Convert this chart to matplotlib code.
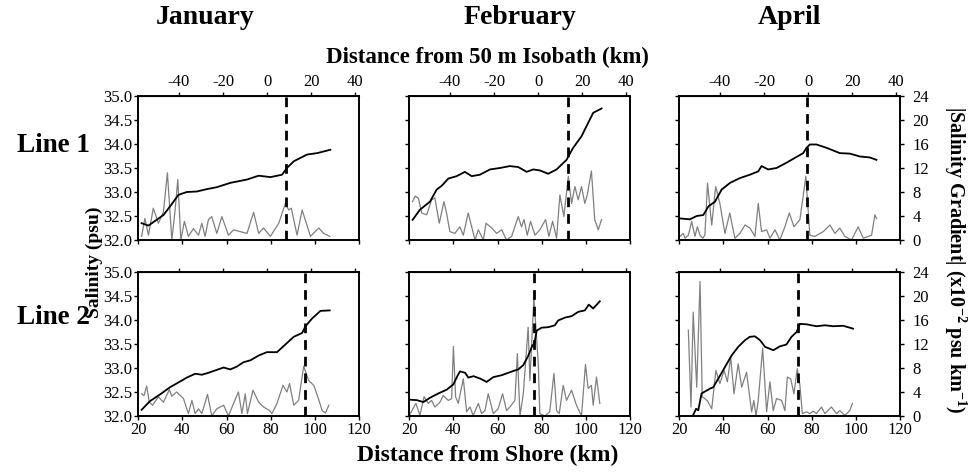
import matplotlib.pyplot as plt
import numpy as np

plt.rcParams['font.family'] = ['Liberation Serif', 'DejaVu Serif']
plt.rcParams['axes.unicode_minus'] = False
plt.rcParams['mathtext.fontset'] = 'custom'
plt.rcParams['mathtext.rm'] = 'Liberation Serif'
plt.rcParams['mathtext.bf'] = 'Liberation Serif:bold'

# distance of 50 m isobath from shore (km), used for the top axis
isobath_offset = 78.4

# ---- Line 1, January ----
jan1_km = [21.5, 24.6, 28.3, 31.4, 34.4, 38.2, 42.0, 46.5, 51.1, 55.6, 61.7, 69.3, 74.6, 79.9,
           85.2, 87.4, 90.5, 96.5, 101.1, 107.1]
jan1_sal = [32.35, 32.30, 32.42, 32.52, 32.70, 32.94, 33.00, 33.01, 33.06, 33.10, 33.19, 33.26,
            33.34, 33.31, 33.36, 33.50, 33.64, 33.78, 33.81, 33.88]
jan1_gkm = [21.5, 23.0, 24.6, 26.8, 29.1, 31.4, 33.2, 35.2, 36.7, 37.9, 39.3, 40.9, 42.7, 45.0,
            47.3, 48.8, 50.3, 51.8, 53.3, 55.6, 57.9, 60.9, 63.2, 66.2, 69.3, 72.3, 74.6, 76.8,
            79.9, 83.7, 86.7, 88.2, 89.4, 92.0, 94.3, 98.1, 101.8, 104.1, 106.8]
jan1_grad = [0.6, 3.6, 0.8, 5.3, 2.8, 4.7, 11.2, 0.0, 5.0, 10.1, 0.0, 3.1, 0.6, 1.9,
             0.8, 2.8, 0.6, 3.4, 3.9, 1.1, 3.9, 0.8, 1.7, 1.4, 1.1, 4.6, 1.1, 2.0,
             0.6, 2.8, 6.1, 5.0, 5.3, 0.8, 5.0, 0.6, 2.0, 1.1, 0.6]
jan1_front = 87.1

# ---- Line 1, February ----
feb1_km = [21.5, 24.8, 29.4, 32.4, 34.7, 37.7, 41.5, 45.2, 48.3, 52.0, 56.6, 61.1, 65.6, 69.4,
           73.2, 76.2, 79.2, 83.0, 86.8, 91.3, 94.3, 98.1, 101.1, 103.4, 107.2]
feb1_sal = [32.42, 32.63, 32.80, 33.05, 33.13, 33.28, 33.33, 33.42, 33.33, 33.36, 33.47, 33.50,
            33.54, 33.52, 33.42, 33.47, 33.45, 33.38, 33.47, 33.67, 33.92, 34.16, 34.44, 34.65, 34.74]
feb1_gkm = [21.5, 22.6, 24.1, 25.6, 27.9, 30.1, 31.6, 33.6, 35.7, 36.9, 38.4, 40.7, 42.9, 44.5,
            46.7, 48.3, 49.8, 51.3, 53.6, 54.8, 57.4, 59.6, 61.9, 64.1, 66.4, 69.4, 70.9, 72.0,
            73.5, 75.0, 77.0, 79.2, 81.8, 83.3, 85.0, 86.8, 88.3, 90.1, 92.1, 93.6, 95.1, 96.6,
            98.1, 99.6, 100.7, 102.6, 104.1, 105.7, 107.2]
feb1_grad = [6.4, 7.3, 7.0, 4.5, 4.2, 6.7, 7.0, 2.8, 6.4, 4.5, 1.4, 1.1, 2.2, 0.8,
             4.5, 2.2, 0.0, 1.7, 0.0, 2.8, 2.0, 1.1, 1.7, 0.0, 0.6, 3.9, 2.2, 3.4,
             0.8, 3.1, 0.8, 1.7, 3.4, 0.6, 3.1, 0.3, 7.5, 3.9, 10.6, 6.1, 8.9, 6.7,
             8.9, 6.1, 7.5, 11.5, 3.4, 1.7, 3.4]
feb1_front = 91.8

# ---- Line 1, April ----
apr1_km = [20.3, 24.8, 27.9, 30.9, 33.2, 36.2, 39.2, 43.0, 47.5, 52.0, 55.8, 57.3, 60.3, 64.1,
           68.6, 72.4, 76.2, 77.7, 79.2, 82.2, 86.8, 92.8, 97.3, 101.9, 106.4, 109.4]
apr1_sal = [32.45, 32.43, 32.50, 32.52, 32.70, 32.80, 33.05, 33.19, 33.29, 33.36, 33.43, 33.54,
            33.47, 33.50, 33.61, 33.71, 33.81, 33.92, 33.99, 33.99, 33.92, 33.81, 33.80, 33.74,
            33.72, 33.67]
apr1_gkm = [20.3, 21.8, 22.6, 24.1, 25.6, 27.1, 28.2, 29.4, 30.6, 31.6, 32.8, 34.7, 36.5, 38.4,
            40.7, 42.9, 45.2, 47.5, 49.8, 52.0, 54.3, 55.8, 57.3, 59.6, 61.1, 63.4, 65.6, 67.9,
            69.9, 72.0, 74.7, 77.4, 79.2, 81.5, 85.3, 88.3, 90.6, 92.8, 95.1, 98.1, 101.1, 103.4,
            107.2, 108.7, 109.4]
apr1_grad = [0.6, 1.1, 0.3, 0.8, 3.1, 0.6, 2.2, 0.8, 0.3, 0.8, 9.5, 2.5, 8.9, 6.1,
             1.1, 4.5, 0.3, 1.1, 2.5, 2.0, 0.6, 6.1, 1.4, 1.7, 0.3, 1.7, 0.0, 2.2,
             4.5, 2.2, 3.4, 10.6, 0.8, 0.6, 1.4, 2.5, 1.1, 2.0, 0.6, 0.0, 2.2, 0.3,
             0.8, 4.2, 3.6]
apr1_front = 77.7

# ---- Line 2, January ----
jan2_km = [21.5, 25.3, 29.9, 34.4, 39.0, 42.0, 45.8, 48.8, 51.8, 54.9, 58.7, 61.7, 64.7, 67.7,
           70.8, 74.6, 78.3, 82.9, 86.7, 90.5, 94.3, 95.8, 98.8, 102.6, 106.8]
jan2_sal = [32.13, 32.31, 32.45, 32.60, 32.72, 32.80, 32.88, 32.86, 32.90, 32.95, 33.01, 32.97,
            33.03, 33.12, 33.16, 33.26, 33.33, 33.33, 33.49, 33.65, 33.73, 33.87, 34.03, 34.19, 34.20]
jan2_gkm = [21.5, 22.6, 23.8, 25.0, 26.5, 29.1, 31.4, 34.1, 35.2, 37.4, 40.5, 42.7, 44.3, 45.8,
            47.3, 48.8, 51.4, 53.3, 55.6, 58.7, 60.9, 63.2, 65.4, 67.0, 68.5, 69.5, 72.0, 74.6,
            76.8, 79.6, 80.6, 82.9, 85.6, 87.4, 88.6, 90.5, 92.7, 95.0, 97.3, 99.6, 101.4, 103.4,
            104.9, 106.4]
jan2_grad = [3.7, 3.4, 5.0, 2.3, 1.8, 3.2, 2.3, 4.4, 3.3, 4.0, 2.9, 0.4, 2.6, 0.4,
             1.2, 0.4, 3.6, 0.0, 1.2, 1.8, 0.0, 2.1, 4.0, 0.4, 3.7, 0.4, 4.3, 2.3,
             1.5, 0.9, 0.4, 2.1, 5.1, 4.0, 5.4, 1.8, 2.6, 8.3, 5.9, 5.1, 3.2, 0.9,
             0.5, 1.8]
jan2_front = 95.5

# ---- Line 2, February ----
feb2_km = [20.0, 23.4, 26.4, 29.4, 33.2, 37.0, 40.0, 42.0, 43.0, 45.3, 46.8, 49.1, 52.1, 55.1,
           58.1, 61.9, 64.9, 67.9, 69.4, 71.7, 74.0, 75.8, 76.7, 77.8, 80.0, 83.0, 86.0, 87.5,
           90.6, 93.6, 96.6, 99.6, 101.4, 103.4, 106.4]
feb2_sal = [32.34, 32.33, 32.29, 32.38, 32.47, 32.55, 32.66, 32.85, 32.93, 32.90, 32.80, 32.83,
            32.78, 32.71, 32.81, 32.85, 32.90, 32.95, 32.97, 33.06, 33.26, 33.47, 33.51, 33.78,
            33.84, 33.85, 33.89, 33.99, 34.05, 34.08, 34.17, 34.20, 34.32, 34.24, 34.39]
feb2_gkm = [20.0, 23.0, 24.8, 26.7, 28.6, 30.1, 31.6, 33.9, 35.4, 37.7, 39.2, 40.0, 41.0, 42.2,
            44.5, 46.0, 47.5, 49.0, 51.3, 52.8, 54.3, 55.8, 58.1, 60.3, 62.3, 64.1, 65.6, 67.9,
            69.0, 70.2, 71.7, 73.9, 74.7, 76.5, 78.5, 79.2, 81.5, 83.7, 85.6, 86.8, 88.0, 89.8,
            91.3, 93.6, 95.8, 98.1, 99.9, 101.1, 102.6, 103.4, 104.9, 106.4]
feb2_grad = [0.1, 2.1, 0.1, 3.2, 2.1, 2.6, 1.5, 2.3, 3.4, 2.6, 2.9, 11.6, 3.2, 2.1,
             6.2, 0.7, 1.5, 0.1, 2.1, 0.4, 0.9, 3.7, 0.4, 1.2, 3.7, 0.9, 1.5, 2.6,
             10.4, 0.0, 3.7, 14.8, 5.9, 19.8, 8.7, 0.4, 0.0, 0.7, 7.1, 0.9, 0.4, 5.1,
             2.6, 4.3, 1.8, 0.0, 8.6, 4.6, 5.1, 1.8, 6.5, 2.1]
feb2_front = 76.5

# ---- Line 2, April ----
apr2_km = [26.1, 27.6, 28.6, 30.1, 33.9, 35.4, 37.7, 40.7, 43.7, 46.7, 49.8, 52.0, 54.3, 56.6,
           58.9, 61.1, 62.6, 65.6, 68.6, 70.9, 73.2, 74.7, 77.7, 82.2, 86.0, 89.8, 94.3, 98.8]
apr2_sal = [32.00, 32.15, 32.12, 32.47, 32.57, 32.60, 32.78, 33.02, 33.26, 33.44, 33.58, 33.65,
            33.66, 33.58, 33.44, 33.40, 33.37, 33.45, 33.49, 33.65, 33.75, 33.92, 33.91, 33.87,
            33.89, 33.87, 33.88, 33.82]
apr2_gkm = [24.1, 25.3, 26.3, 27.9, 29.4, 30.4, 31.6, 32.8, 34.7, 36.6, 38.4, 40.3, 41.8, 43.3,
            44.8, 46.7, 48.3, 50.5, 52.8, 53.8, 54.8, 55.8, 57.8, 59.6, 61.1, 62.6, 64.1, 66.4,
            67.9, 69.0, 70.5, 72.0, 73.5, 74.7, 75.8, 77.7, 79.2, 80.7, 82.2, 84.5, 86.0, 89.0,
            91.3, 92.8, 95.1, 97.3, 98.5]
apr2_grad = [14.3, 1.5, 17.3, 4.8, 22.4, 3.2, 2.9, 2.5, 1.2, 7.6, 5.4, 7.6, 5.7, 9.8,
             3.7, 8.7, 4.8, 7.3, 0.7, 2.6, 0.0, 2.6, 11.3, 0.7, 5.7, 0.9, 2.9, 2.6,
             0.9, 6.5, 6.2, 3.7, 7.9, 5.1, 0.4, 0.7, 0.4, 0.8, 0.4, 1.5, 0.4, 1.5,
             0.4, 0.9, 0.1, 0.9, 2.1]
apr2_front = 73.9

panels = [
    [(jan1_km, jan1_sal, jan1_gkm, jan1_grad, jan1_front),
     (feb1_km, feb1_sal, feb1_gkm, feb1_grad, feb1_front),
     (apr1_km, apr1_sal, apr1_gkm, apr1_grad, apr1_front)],
    [(jan2_km, jan2_sal, jan2_gkm, jan2_grad, jan2_front),
     (feb2_km, feb2_sal, feb2_gkm, feb2_grad, feb2_front),
     (apr2_km, apr2_sal, apr2_gkm, apr2_grad, apr2_front)],
]
months = ['January', 'February', 'April']

fig = plt.figure(figsize=(9.68, 4.72), dpi=100)

lefts = [138.3 / 968, 409.3 / 968, 679.3 / 968]
bottoms = [1 - 240 / 472, 1 - 416 / 472]
w = 220.5 / 968
h = 144 / 472

tick_kw = dict(direction='out', length=3, width=1, labelsize=12, pad=1.5)

for r in range(2):
    for c in range(3):
        km, sal, gkm, grad, front = panels[r][c]
        ax = fig.add_axes([lefts[c], bottoms[r], w, h])
        ax2 = ax.twinx()

        ax.plot(km, sal, color='black', lw=1.3, zorder=3)
        ax2.plot(gkm, grad, color='#808080', lw=0.9)
        ax.axvline(front, color='black', lw=2, linestyle=(0, (3.5, 2.5)), zorder=4)
        ax.set_zorder(ax2.get_zorder() + 1)
        ax.patch.set_visible(False)

        ax.set_xlim(20, 120)
        ax.set_ylim(32, 35)
        ax2.set_ylim(0, 24)
        ax.set_xticks(np.arange(20, 121, 20))
        ax.set_yticks(np.arange(32, 35.01, 0.5))
        ax2.set_yticks(np.arange(0, 25, 4))
        ax.tick_params(**tick_kw)
        ax2.tick_params(**tick_kw)
        ax2.tick_params(axis='y', pad=6)

        if c != 0:
            ax.set_yticklabels([])
        else:
            ax.set_yticklabels([f'{v:.1f}' for v in np.arange(32, 35.01, 0.5)])
        if c != 2:
            ax2.tick_params(right=False, labelright=False)
        if r == 0:
            ax.set_xticklabels([])

        top = ax.secondary_xaxis('top', functions=(lambda x: x - isobath_offset,
                                                   lambda x: x + isobath_offset))
        top.set_xticks([-40, -20, 0, 20, 40])
        top.tick_params(**tick_kw)
        if r == 1:
            top.set_xticklabels([])

        for sp in list(ax.spines.values()) + list(ax2.spines.values()):
            sp.set_linewidth(1.2)

for c, m in enumerate(months):
    fig.text([205, 520, 790][c] / 968, 1 - 18 / 472, m, ha='center', va='center',
             fontsize=20, fontweight='bold')

fig.text(487 / 968, 1 - 57 / 472, 'Distance from 50 m Isobath (km)', ha='center', va='center',
         fontsize=16.5, fontweight='bold')
fig.text(488 / 968, 1 - 455 / 472, 'Distance from Shore (km)', ha='center', va='center',
         fontsize=17, fontweight='bold')
fig.text(53 / 968, 1 - 145 / 472, 'Line 1', ha='center', va='center', fontsize=19.5, fontweight='bold')
fig.text(53 / 968, 1 - 317 / 472, 'Line 2', ha='center', va='center', fontsize=19.5, fontweight='bold')
fig.text(94 / 968, 1 - 262 / 472, 'Salinity (psu)', ha='center', va='center', rotation=90,
         fontsize=14, fontweight='bold')
fig.text(955 / 968, 1 - 260 / 472, r'|Salinity Gradient| (x10$^{\mathbf{-2}}$ psu km$^{\mathbf{-1}}$)',
         ha='center', va='center', rotation=-90, fontsize=14.5, fontweight='bold')

fig.savefig('out.png', dpi=100)
